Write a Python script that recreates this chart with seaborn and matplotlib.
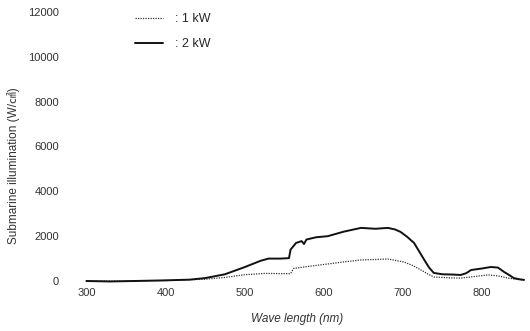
import matplotlib
matplotlib.use("Agg")
import matplotlib.pyplot as plt
import seaborn as sns
import pandas as pd

# values
wl_1kw = [300, 350, 400, 450, 475, 500, 525, 545, 558, 562, 580, 605, 625, 647, 681,
          701, 712, 723, 732, 739, 760, 773, 790, 808, 820, 833, 845, 853]
val_1kw = [0, 0, 20, 80, 160, 280, 340, 330, 330, 560, 650, 760, 850, 940, 980,
           850, 700, 490, 300, 180, 140, 130, 200, 270, 230, 130, 70, 40]

wl_2kw = [300, 330, 360, 400, 430, 450, 475, 500, 520, 530, 545, 556, 558, 565, 572,
          575, 578, 590, 605, 625, 647, 665, 681, 690, 697, 705, 714, 720, 727, 733,
          739, 750, 762, 773, 780, 786, 800, 811, 820, 828, 835, 840, 847, 853]
val_2kw = [0, -20, 0, 30, 60, 130, 300, 620, 900, 1000, 1000, 1020, 1400, 1700, 1780,
           1650, 1850, 1950, 2000, 2200, 2370, 2330, 2370, 2300, 2190, 1980, 1700, 1350,
           940, 600, 360, 300, 290, 270, 350, 490, 560, 625, 600, 400, 250, 130, 80, 50]

x_ticks = [300, 400, 500, 600, 700, 800]
y_ticks = [0, 2000, 4000, 6000, 8000, 10000, 12000]

df1 = pd.DataFrame({"wl": wl_1kw, "val": val_1kw})
df2 = pd.DataFrame({"wl": wl_2kw, "val": val_2kw})

sns.set_style("white")
plt.rcParams['font.family'] = ['Liberation Sans', 'Noto Sans CJK JP', 'DejaVu Sans']

fig = plt.figure(figsize=(5.3, 3.31), dpi=100)
ax = fig.add_axes([84 / 530, 45.5 / 331, 444 / 530, 278 / 331])

sns.lineplot(data=df1, x="wl", y="val", ax=ax, color="#333333", lw=0.9,
             linestyle=(0, (1, 1)), label=": 1 kW")
sns.lineplot(data=df2, x="wl", y="val", ax=ax, color="#111111", lw=1.4,
             label=": 2 kW")

ax.set_xlim(297, 858)
ax.set_ylim(-200, 12200)
ax.set_xticks(x_ticks)
ax.set_yticks(y_ticks)
ax.tick_params(length=0, labelsize=8, labelcolor="#333333", pad=2)
ax.tick_params(axis="y", pad=18)
sns.despine(ax=ax, left=True, bottom=True)

ax.set_xlabel("Wave length (nm)", fontsize=8.5, style="italic", color="#333333")
ax.set_ylabel("Submarine illumination (W/㎠)", fontsize=8.5, color="#333333")
ax.xaxis.set_label_coords(0.48, -0.1)
ax.yaxis.set_label_coords(-0.145, 0.43)

ax.legend(loc="upper left", bbox_to_anchor=(124 / 530, 1 - 2 / 331),
          bbox_transform=fig.transFigure, frameon=False, fontsize=9,
          handlelength=2.2, handletextpad=1.0, labelspacing=1.05)

fig.savefig("out.png", dpi=100)
